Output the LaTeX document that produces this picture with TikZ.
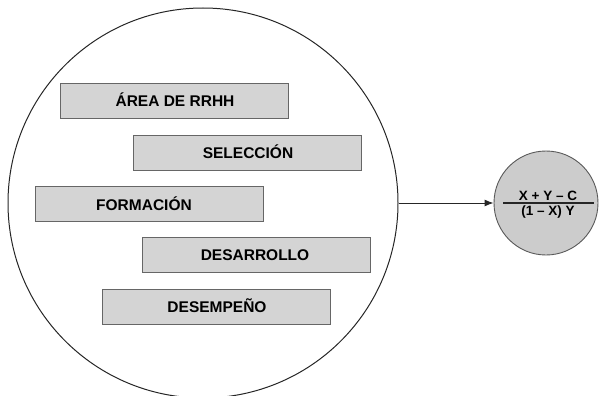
\documentclass[tikz,border=0pt]{standalone}
\usepackage{fontspec}
\setmainfont{Liberation Sans}
\usetikzlibrary{arrows.meta}
\begin{document}
\begin{tikzpicture}[x=1pt,y=-1pt,
  bigring/.style={draw=black!85, line width=1pt},
  bar/.style={draw=black!60, line width=0.9pt, fill=black!17, minimum width=228pt, minimum height=35pt, inner sep=0pt},
  bartext/.style={font=\fontsize{15.5}{18}\selectfont\bfseries, text=black, inner sep=0pt},
  smallring/.style={draw=black!65, line width=0.9pt, fill=black!20},
  frac/.style={font=\fontsize{13.5}{16}\selectfont\bfseries, text=black, inner sep=1pt},
  link/.style={draw=black!85, line width=0.9pt, -{Latex[length=9pt,width=7pt]}}
]
\useasboundingbox (0,0) rectangle (600,396);
\node[bigring, circle, minimum size=390pt, inner sep=0pt] (big) at (203,203) {};
\node[bar] (b1) at (174,100.5) {};
\node[bartext] (t1) at (175,100) {ÁREA DE RRHH};
\node[bar] (b2) at (247.5,152.5) {};
\node[bartext] (t2) at (248,152) {SELECCIÓN};
\node[bar] (b3) at (149,204) {};
\node[bartext] (t3) at (144,204) {FORMACIÓN};
\node[bar] (b4) at (256,255) {};
\node[bartext] (t4) at (255,255) {DESARROLLO};
\node[bar] (b5) at (216.5,306.5) {};
\node[bartext] (t5) at (217,306) {DESEMPEÑO};
\node[smallring, circle, minimum size=104pt, inner sep=0pt] (small) at (546,203) {};
\node[frac, anchor=south] (num) at (548,201.5) {X + Y – C};
\node[frac, anchor=north] (den) at (548,204.5) {(1 – X) Y};
\coordinate (fl) at (503,203);
\coordinate (fr) at (594,203);
\draw[black!85, line width=1.1pt] (fl) -- (fr);
\draw[link] (big.east) -- (small.west);
\end{tikzpicture}
\end{document}
